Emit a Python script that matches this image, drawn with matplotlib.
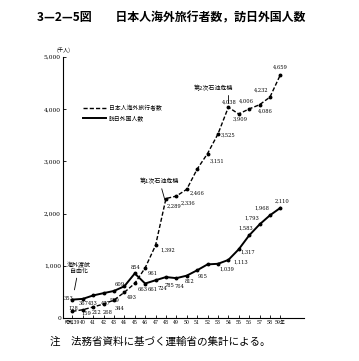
import matplotlib
matplotlib.use("Agg")
import matplotlib.pyplot as plt

plt.rcParams['font.family'] = ['Noto Sans CJK JP', 'DejaVu Sans']

# data (千人), 昭和39年 - 59年
years = list(range(39, 60))
outbound = [128, 159, 212, 268, 344, 493, 663, 961, 1392, 2289, 2336, 2466,
            2853, 3151, 3525, 4038, 3909, 4006, 4086, 4232, 4659]
inbound = [353, 367, 433, 477, 519, 609, 854, 661, 724, 785, 764, 812,
           915, 1028, 1039, 1113, 1317, 1583, 1793, 1968, 2110]
xlabels = ['昭和39'] + [str(y) for y in years[1:-1]] + ['59年']
yticks = [0, 1000, 2000, 3000, 4000, 5000]
ylabels = ['0', '1,000', '2,000', '3,000', '4,000', '5,000']

# label offsets in pixels (None = no label)
out_off = [(1, 3), (4, -4), (3, -6), (4, -8), (5, -8), (7, -5), (8, -6), (7, -6),
           (12, -5), (8, -8), (12, -7), (10, -4), None, (9, -8), (10, -1),
           (1, 5), (1, -5), (-3, 8), (6, -6), (-9, 7), (0, 8)]
in_off = [(-4, 1), (1, -5), (0, -8), (2, -10), (1, -10), (-5, 2), (1, 6), (7, -6),
          (7, -8), (4, -8), (3, -8), (3, -6), (5, -6), None, (9, -5), (12, -2),
          (9, -3), (-3, 7), (-8, 6), (-8, 7), (2, 7)]

num_font = ['DejaVu Serif', 'Noto Sans CJK JP']

fig = plt.figure(figsize=(3.59, 3.61), dpi=100)
ax = fig.add_axes([0.1755, 0.119, 0.672, 0.723])

ax.plot(years, outbound, color='black', lw=1.0, ls=(0, (3, 1.5)),
        marker='o', ms=1.8, label='日本人海外旅行者数')
ax.plot(years, inbound, color='black', lw=1.4, ls='-',
        marker='o', ms=1.8, label='訪日外国人数')

def fmt(v):
    return '{:,}'.format(v)

for x, v, off in zip(years, outbound, out_off):
    if off:
        ax.annotate(fmt(v), (x, v), xytext=off, textcoords='offset pixels',
                    ha='center', va='center', fontsize=3.7, family=num_font)
for x, v, off in zip(years, inbound, in_off):
    if off:
        ax.annotate(fmt(v), (x, v), xytext=off, textcoords='offset pixels',
                    ha='center', va='center', fontsize=3.7, family=num_font)

# callouts
ax.annotate('海外渡航\n自由化', xy=(39.2, 540), xytext=(39.6, 960),
            ha='center', va='center', fontsize=4.3, linespacing=1.2,
            arrowprops=dict(arrowstyle='-', lw=0.6, color='black', shrinkA=1, shrinkB=0))
ax.annotate('第1次石油危機', xy=(47.9, 2260), xytext=(47.4, 2615),
            ha='center', va='center', fontsize=4.3,
            arrowprops=dict(arrowstyle='-', lw=0.6, color='black', shrinkA=1, shrinkB=0))
ax.annotate('第2次石油危機', xy=(54.0, 4120), xytext=(52.6, 4404),
            ha='center', va='center', fontsize=4.3,
            arrowprops=dict(arrowstyle='-', lw=0.6, color='black', shrinkA=1, shrinkB=0,
                            connectionstyle='angle,angleA=0,angleB=90,rad=0'))

ax.set_xlim(38.1, 61.3)
ax.set_ylim(0, 5000)
ax.set_xticks(years)
ax.set_xticklabels(xlabels, fontsize=3.4, family=num_font)
ax.set_yticks(yticks)
ax.set_yticklabels(ylabels, fontsize=4.3, family=num_font)
ax.tick_params(direction='in', length=2, width=0.6, pad=1.5)
for s in ['top', 'right']:
    ax.spines[s].set_visible(False)
for s in ['left', 'bottom']:
    ax.spines[s].set_linewidth(0.8)

ax.text(0, 1.025, '(千人)', transform=ax.transAxes, ha='center', va='center', fontsize=3.8)

ax.legend(loc='upper left', bbox_to_anchor=(83 / 359, 1 - 105 / 361),
          bbox_transform=fig.transFigure, frameon=False, fontsize=4.2,
          handlelength=4.0, handletextpad=0.4, borderpad=0, borderaxespad=0,
          labelspacing=0.7, markerscale=0)

fig.text(171 / 359, 0.95, '3—2—5図　　日本人海外旅行者数，訪日外国人数',
         ha='center', va='center', fontsize=8.6, weight='bold')
fig.text(50 / 359, 1 - 342 / 361, '注　法務省資料に基づく運輸省の集計による。',
         ha='left', va='center', fontsize=7.6)

fig.savefig('out.png', dpi=100)
